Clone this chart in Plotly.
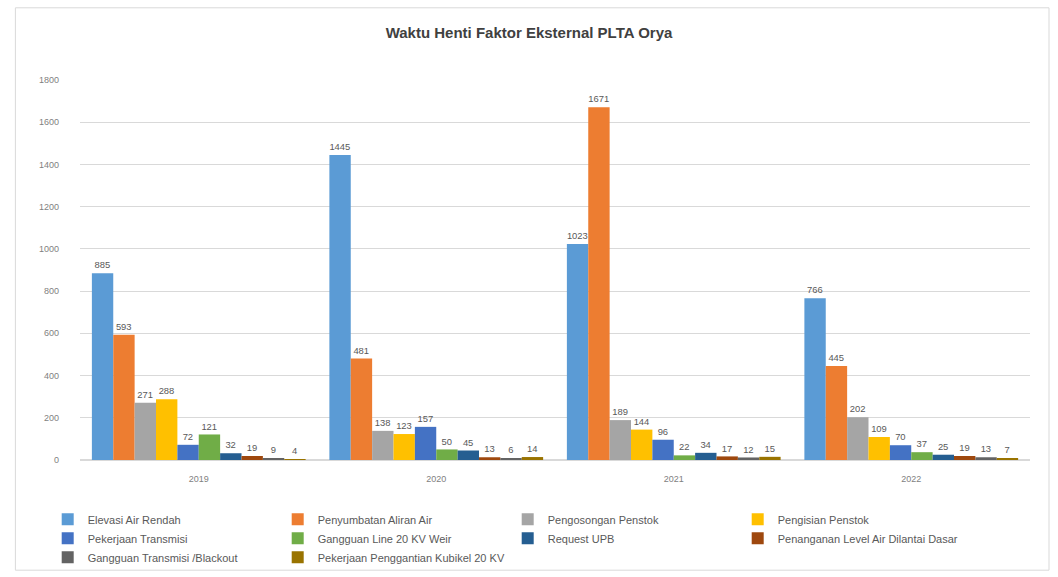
import plotly.graph_objects as go

years = ["2019", "2020", "2021", "2022"]
series_names = [
    "Elevasi Air Rendah",
    "Penyumbatan Aliran Air",
    "Pengosongan Penstok",
    "Pengisian Penstok",
    "Pekerjaan Transmisi",
    "Gangguan Line 20 KV Weir",
    "Request UPB",
    "Penanganan Level Air Dilantai Dasar",
    "Gangguan Transmisi /Blackout",
    "Pekerjaan Penggantian Kubikel 20 KV",
]
elevasi = [885, 1445, 1023, 766]
penyumbatan = [593, 481, 1671, 445]
pengosongan = [271, 138, 189, 202]
pengisian = [288, 123, 144, 109]
pek_transmisi = [72, 157, 96, 70]
gangguan_line = [121, 50, 22, 37]
request_upb = [32, 45, 34, 25]
penanganan = [19, 13, 17, 19]
gangguan_blackout = [9, 6, 12, 13]
kubikel = [4, 14, 15, 7]
all_values = [elevasi, penyumbatan, pengosongan, pengisian, pek_transmisi,
              gangguan_line, request_upb, penanganan, gangguan_blackout, kubikel]
colors = ["#5B9BD5", "#ED7D31", "#A5A5A5", "#FFC000", "#4472C4",
          "#70AD47", "#255E91", "#9E480E", "#636363", "#997300"]
y_ticks = [0, 200, 400, 600, 800, 1000, 1200, 1400, 1600, 1800]

fig = go.Figure()
for name, vals, col in zip(series_names, all_values, colors):
    fig.add_trace(go.Bar(
        x=years, y=vals, name=name,
        marker=dict(color=col, line=dict(width=0)),
        text=[str(v) for v in vals], textposition="outside",
        textfont=dict(size=10, color="#595959", family="Liberation Sans"),
        cliponaxis=False,
    ))

fig.update_layout(
    width=1058, height=577,
    barmode="group", bargap=0.1, bargroupgap=0.0,
    paper_bgcolor="white", plot_bgcolor="white",
    margin=dict(l=80, r=28, t=80, b=117, autoexpand=False),
    title=dict(text="<b>Waktu Henti Faktor Eksternal PLTA Orya</b>",
               x=0.5, xanchor="center", y=0.943, yanchor="middle",
               font=dict(size=15, color="#404040", family="Liberation Sans")),
    font=dict(family="Liberation Sans", color="#595959"),
    yaxis=dict(range=[0, 1800], tickvals=y_ticks, showgrid=True,
               gridcolor="#D9D9D9", zeroline=True, zerolinecolor="#D9D9D9",
               tickfont=dict(size=9, color="#7F7F7F"), ticklen=0,
               ticks="", ticklabelstandoff=20),
    xaxis=dict(tickfont=dict(size=9, color="#7F7F7F"), showline=False,
               ticklabelstandoff=12),
    legend=dict(orientation="h", x=-0.034, xanchor="left", y=-0.118, yanchor="top",
                entrywidth=185, entrywidthmode="pixels",
                bgcolor="rgba(0,0,0,0)",
                font=dict(size=11, color="#595959"),
                itemwidth=30),
    uniformtext=dict(minsize=8, mode="show"),
)
fig.add_shape(type="rect", xref="paper", yref="paper",
              x0=-0.068, x1=1.02, y0=-0.29, y1=1.19,
              line=dict(color="#D9D9D9", width=1))

fig.write_html("out.html")
